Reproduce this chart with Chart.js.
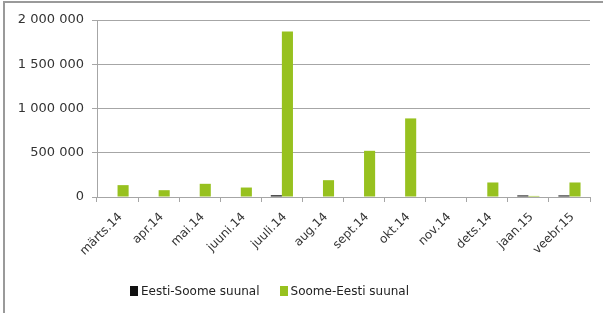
<!DOCTYPE html>
<html lang="et">
<head>
  <meta charset="UTF-8" />
  <script src="https://cdn.jsdelivr.net/npm/chart.js@4/dist/chart.umd.min.js"></script>
  <title>Eesti-Soome</title>
  <style>
    html, body { margin: 0; padding: 0; background: #fff; }
    body { width: 603px; height: 313px; position: relative; overflow: hidden; font-family: "DejaVu Sans", sans-serif; }
    .frame { position: absolute; left: 3px; top: 1px; width: 610px; height: 320px; border-left: 2px solid #9a9a9a; border-top: 2px solid #9a9a9a; }
    .wrap { position: absolute; left: 5px; top: 3px; width: 598px; height: 310px; }
    .legend { position: absolute; top: 284px; left: 130px; font-size: 12px; color: #222; display: flex; white-space: nowrap; }
    .legend span { display: inline-flex; align-items: center; }
    .legend i { display: inline-block; width: 8px; height: 10px; margin-right: 3px; }
  </style>
</head>
<body>
  <div class="frame"></div>
  <div class="wrap"><canvas id="grafico" width="598" height="310"></canvas></div>
  <div class="legend">
    <span><i style="background:#111"></i>Eesti-Soome suunal</span>
    <span style="margin-left:20px"><i style="background:#97c11f"></i>Soome-Eesti suunal</span>
  </div>
  <script>
    // kuud
    const months = ["märts.14", "apr.14", "mai.14", "juuni.14", "juuli.14", "aug.14",
                    "sept.14", "okt.14", "nov.14", "dets.14", "jaan.15", "veebr.15"];
    const eestiSoome = [0, 0, 0, 0, 20000, 0, 0, 0, 0, 0, 18000, 18000];
    const soomeEesti = [134000, 77000, 149000, 107000, 1870000, 190000, 522000, 888000, 0, 164000, 12000, 164000];
    const yTicks = [0, 500000, 1000000, 1500000, 2000000];

    const fmt = v => String(v).replace(/\B(?=(\d{3})+(?!\d))/g, " ");

    new Chart(document.getElementById("grafico").getContext("2d"), {
      type: "bar",
      data: {
        labels: months,
        datasets: [
          { label: "Eesti-Soome suunal", data: eestiSoome, backgroundColor: "#1a1a1a",
            categoryPercentage: 0.54, barPercentage: 1 },
          { label: "Soome-Eesti suunal", data: soomeEesti, backgroundColor: "#97c11f",
            categoryPercentage: 0.54, barPercentage: 1 }
        ]
      },
      options: {
        responsive: false,
        animation: false,
        layout: { padding: { top: 17, right: 13, left: 0, bottom: 0 } },
        plugins: { legend: { display: false }, tooltip: { enabled: false } },
        scales: {
          x: {
            afterFit: s => { s.height = 116; },
            grid: { offset: true, drawOnChartArea: false, drawTicks: true, tickLength: 5, color: "#a6a6a6" },
            border: { color: "#a6a6a6" },
            ticks: { maxRotation: 45, minRotation: 45, autoSkip: false, labelOffset: 3, padding: 8,
                     color: "#333", font: { family: "DejaVu Sans", size: 12 } }
          },
          y: {
            min: 0, max: 2000000,
            afterFit: s => { s.width = 92; },
            afterBuildTicks: s => { s.ticks = yTicks.map(v => ({ value: v })); },
            grid: { color: "#a6a6a6", tickLength: 5 },
            border: { color: "#a6a6a6" },
            ticks: { callback: v => fmt(v), color: "#333", padding: 8,
                     font: { family: "DejaVu Sans", size: 13 } }
          }
        }
      }
    });
  </script>
</body>
</html>
